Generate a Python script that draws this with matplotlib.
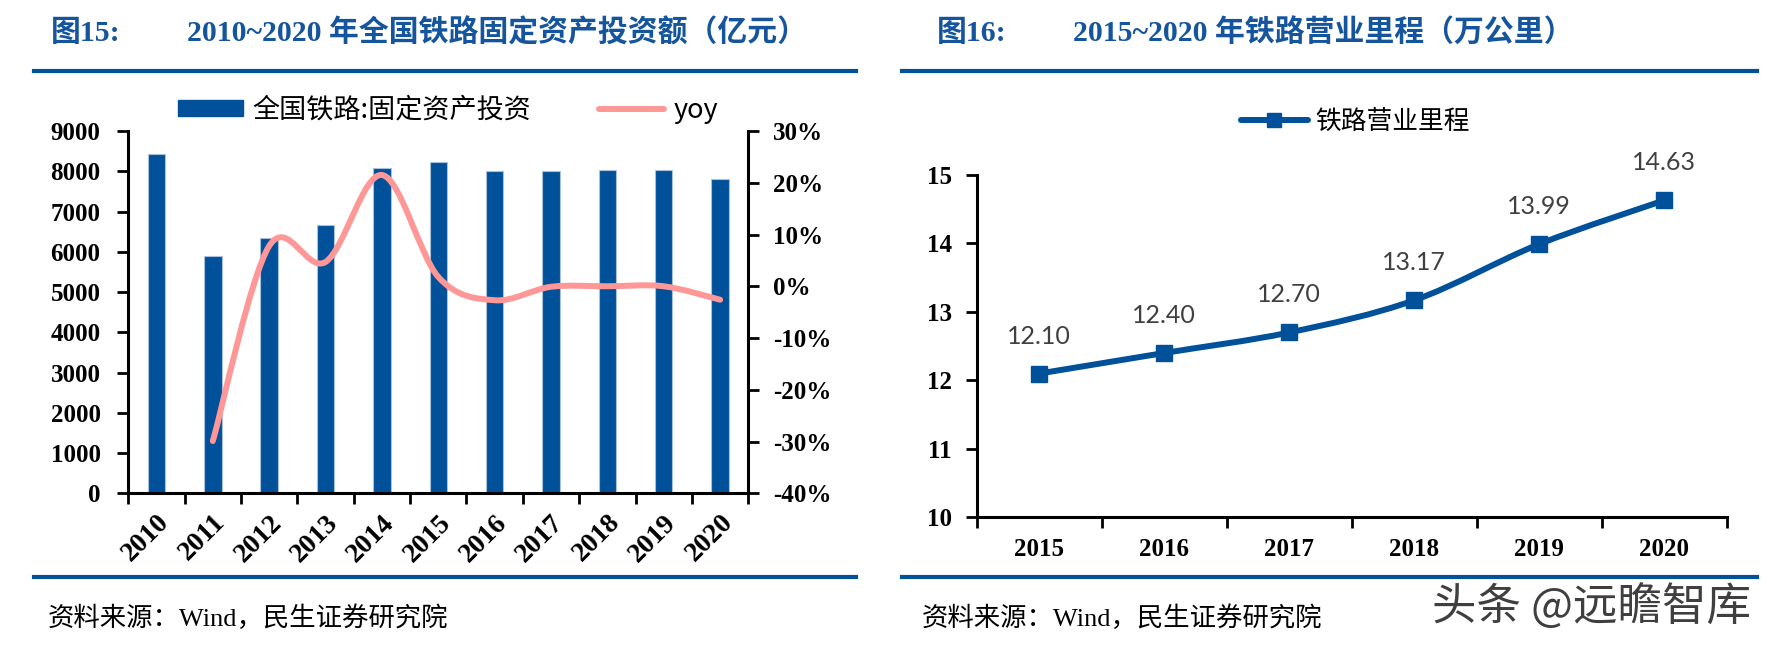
import numpy as np
import matplotlib
matplotlib.use("Agg")
import matplotlib.pyplot as plt
from matplotlib.path import Path
from matplotlib.patches import PathPatch, Patch
from matplotlib.lines import Line2D
from matplotlib.ticker import FuncFormatter, FixedLocator
from matplotlib.font_manager import FontProperties

# ---------------- data ----------------
years_left = ["2010", "2011", "2012", "2013", "2014", "2015", "2016", "2017", "2018", "2019", "2020"]
investment = [8427, 5906, 6340, 6658, 8088, 8238, 8015, 8010, 8028, 8029, 7819]
yoy_years = ["2011", "2012", "2013", "2014", "2015", "2016", "2017", "2018", "2019", "2020"]
yoy = [-0.299, 0.078, 0.047, 0.215, 0.018, -0.027, -0.001, 0.000, 0.000, -0.026]

years_right = ["2015", "2016", "2017", "2018", "2019", "2020"]
mileage = [12.10, 12.40, 12.70, 13.17, 13.99, 14.63]

left_title_no = "图15:"
left_title = "2010~2020 年全国铁路固定资产投资额（亿元）"
right_title_no = "图16:"
right_title = "2015~2020 年铁路营业里程（万公里）"
bar_label = "全国铁路:固定资产投资"
line_label = "yoy"
right_label = "铁路营业里程"
source = "资料来源：Wind，民生证券研究院"
watermark = "头条 @远瞻智库"

# ---------------- style ----------------
W, H = 1777, 648
DPI = 100
NAVY = "#00519A"
TITLE = "#15559D"
PINK = "#FF9797"
SERIF_CJK = ["Liberation Serif", "Noto Sans CJK SC"]
CJK = ["Noto Sans CJK SC", "DejaVu Sans"]

fig = plt.figure(figsize=(W / DPI, H / DPI), dpi=DPI)


def fx(px):
    return px / W


def fy(py):
    return 1 - py / H


def smooth_path(xs, ys):
    pts = np.column_stack([np.asarray(xs, float), np.asarray(ys, float)])
    n = len(pts)
    verts = [pts[0]]
    codes = [Path.MOVETO]
    for i in range(n - 1):
        p0 = pts[i - 1] if i > 0 else pts[i]
        p1 = pts[i]
        p2 = pts[i + 1]
        p3 = pts[i + 2] if i + 2 < n else pts[i + 1]
        c1 = p1 + (p2 - p0) / 6.0
        c2 = p2 - (p3 - p1) / 6.0
        verts += [c1, c2, p2]
        codes += [Path.CURVE4] * 3
    return Path(verts, codes)


tick_font = dict(family="Liberation Serif", weight="bold", size=18)
xrot_font = dict(family="Liberation Serif", weight="bold", size=20)

# ---------------- left chart ----------------
axL = fig.add_axes([fx(128.3), fy(493.3), fx(748.3 - 128.3), (493.3 - 131) / H])
xl = np.arange(len(years_left))
axL.bar(xl, investment, width=0.31, color=NAVY, edgecolor="#A9C0DC", linewidth=0.8, zorder=2)
axL.set_xlim(-0.5, len(years_left) - 0.5)
axL.set_ylim(0, 9000)
axL.set_yticks(np.arange(0, 9001, 1000))
axL.xaxis.set_major_locator(FixedLocator(np.arange(-0.5, len(years_left), 1.0)))
axL.xaxis.set_minor_locator(FixedLocator(xl))
axL.set_xticklabels([], minor=False)
axL.set_xticklabels(years_left, minor=True, rotation=45, ha="right", va="top",
                    rotation_mode="anchor", fontdict=xrot_font)
axL.tick_params(axis="x", which="minor", length=0, pad=12)
axL.tick_params(axis="x", which="major", length=8, width=2, direction="out")
axL.tick_params(axis="y", length=8, width=2, direction="out", pad=12)
for lab in axL.get_yticklabels():
    lab.set_fontproperties(FontProperties(**tick_font))
for s in ["top", "right"]:
    axL.spines[s].set_visible(False)
for s in ["left", "bottom"]:
    axL.spines[s].set_linewidth(2.2)

axR2 = axL.twinx()
axR2.set_ylim(-0.40, 0.30)
axR2.set_yticks(np.arange(-0.40, 0.301, 0.10))
axR2.yaxis.set_major_formatter(FuncFormatter(lambda v, p: f"{int(round(v * 100))}%"))
axR2.tick_params(axis="y", length=8, width=2, direction="out", pad=10)
for lab in axR2.get_yticklabels():
    lab.set_fontproperties(FontProperties(**tick_font))
for s in ["top", "left", "bottom"]:
    axR2.spines[s].set_visible(False)
axR2.spines["right"].set_linewidth(2.2)
yoy_x = [years_left.index(y) for y in yoy_years]
axR2.add_patch(PathPatch(smooth_path(yoy_x, yoy), facecolor="none", edgecolor=PINK,
                         linewidth=4.3, capstyle="round", joinstyle="round", zorder=3))

handles_L = [Patch(facecolor=NAVY, edgecolor=NAVY),
             Line2D([0], [0], color=PINK, linewidth=4.3, solid_capstyle="round")]
fig.legend(handles_L, [bar_label, line_label], loc="center",
           bbox_to_anchor=(fx(448), fy(110)), ncol=2, frameon=False,
           prop=dict(family=CJK, size=19.5), handlelength=2.4, handleheight=0.5,
           handletextpad=0.35, columnspacing=2.5, borderpad=0, borderaxespad=0)

# ---------------- right chart ----------------
axM = fig.add_axes([fx(976.7), fy(517.3), fx(1726.7 - 976.7), (517.3 - 175) / H])
xr = np.arange(len(years_right))
axM.add_patch(PathPatch(smooth_path(xr, mileage), facecolor="none", edgecolor=NAVY,
                        linewidth=4.3, capstyle="round", joinstyle="round", zorder=3))
axM.plot(xr, mileage, linestyle="none", marker="s", markersize=12, color=NAVY, zorder=4)
for xi, v in zip(xr, mileage):
    axM.annotate(f"{v:.2f}", (xi, v), xytext=(0, 27), textcoords="offset points",
                 ha="center", va="center", fontsize=18, family="Lato", color="#404040")
axM.set_xlim(-0.5, len(years_right) - 0.5)
axM.set_ylim(10, 15)
axM.set_yticks(np.arange(10, 15.01, 1))
axM.xaxis.set_major_locator(FixedLocator(np.arange(-0.5, len(years_right), 1.0)))
axM.xaxis.set_minor_locator(FixedLocator(xr))
axM.set_xticklabels([], minor=False)
axM.set_xticklabels(years_right, minor=True, fontdict=tick_font)
axM.tick_params(axis="x", which="minor", length=0, pad=15)
axM.tick_params(axis="x", which="major", length=8, width=2, direction="out")
axM.tick_params(axis="y", length=8, width=2, direction="out", pad=10)
for lab in axM.get_yticklabels():
    lab.set_fontproperties(FontProperties(**tick_font))
for s in ["top", "right"]:
    axM.spines[s].set_visible(False)
for s in ["left", "bottom"]:
    axM.spines[s].set_linewidth(2.2)

handles_R = [Line2D([0], [0], color=NAVY, linewidth=4.3, marker="s", markersize=10,
                    solid_capstyle="round")]
fig.legend(handles_R, [right_label], loc="center", bbox_to_anchor=(fx(1355.5), fy(122)),
           frameon=False, prop=dict(family=CJK, size=18.5), handlelength=2.6,
           handletextpad=0.3, borderpad=0, borderaxespad=0)

# ---------------- frame texts and rules ----------------
for x0, x1 in [(34, 856), (902, 1757)]:
    for yy in (71, 577):
        fig.add_artist(Line2D([fx(x0), fx(x1)], [fy(yy), fy(yy)], color=NAVY, linewidth=3.0))

title_kw = dict(family=SERIF_CJK, weight="bold", size=21.5, color=TITLE, va="center", ha="left")
fig.text(fx(51), fy(33), left_title_no, **title_kw)
fig.text(fx(187), fy(33), left_title, **title_kw)
fig.text(fx(937), fy(33), right_title_no, **title_kw)
fig.text(fx(1073), fy(33), right_title, **title_kw)

src_kw = dict(family=SERIF_CJK, size=19, color="black", va="center", ha="left")
fig.text(fx(48), fy(618), source, **src_kw)
fig.text(fx(922), fy(618), source, **src_kw)

fig.text(fx(1432), fy(607), watermark, family=CJK, size=32, color="#2a2a2a",
         va="center", ha="left", alpha=0.9)

fig.savefig("out.png", dpi=DPI)
